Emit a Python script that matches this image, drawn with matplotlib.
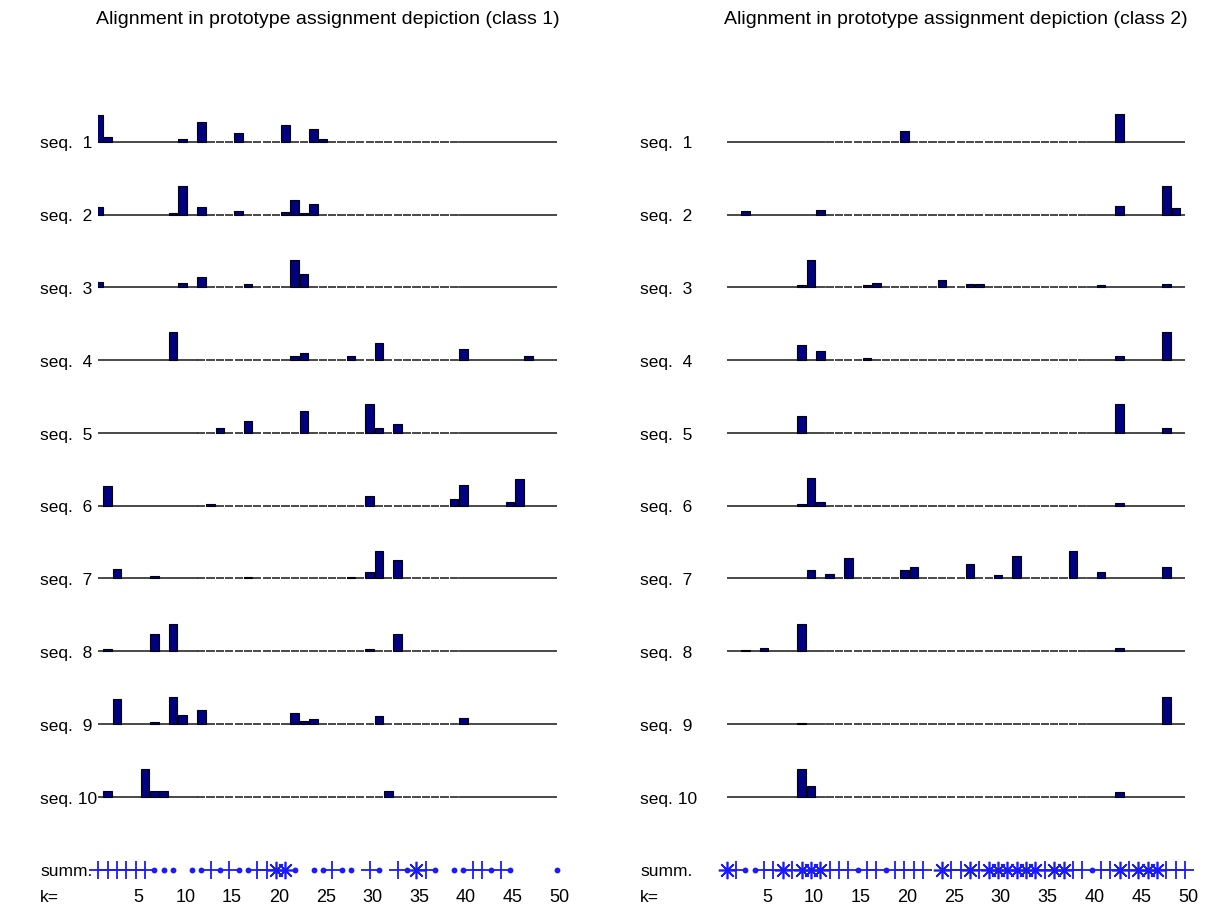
import matplotlib.pyplot as plt
import numpy as np

plt.rcParams['font.family'] = ['Liberation Sans', 'DejaVu Sans']

n_protos = 50
n_seqs = 10
seq_labels = [f"seq. {i:2d}" for i in range(1, n_seqs + 1)]
k_ticks = list(range(5, 51, 5))

# prototype indices hit by each sequence, class 1
class1_pos = [
    [1, 2, 10, 12, 16, 21, 24, 25],
    [1, 9, 10, 12, 16, 21, 22, 23, 24],
    [1, 10, 12, 17, 22, 23],
    [9, 22, 23, 28, 31, 40, 47],
    [14, 17, 23, 30, 31, 33],
    [2, 13, 30, 39, 40, 45, 46],
    [3, 7, 17, 28, 30, 31, 33],
    [2, 7, 9, 30, 33],
    [3, 7, 9, 10, 12, 22, 23, 24, 31, 40],
    [2, 6, 7, 8, 32],
]
# share of the sequence assigned to those prototypes, class 1
class1_val = [
    [0.92, 0.17, 0.09, 0.69, 0.29, 0.57, 0.44, 0.09],
    [0.25, 0.06, 0.97, 0.25, 0.13, 0.08, 0.49, 0.06, 0.37],
    [0.18, 0.15, 0.34, 0.11, 0.94, 0.47],
    [0.95, 0.15, 0.23, 0.15, 0.58, 0.39, 0.14],
    [0.18, 0.42, 0.75, 0.99, 0.18, 0.31],
    [0.68, 0.06, 0.32, 0.24, 0.72, 0.14, 0.92],
    [0.33, 0.09, 0.05, 0.05, 0.22, 0.94, 0.65],
    [0.09, 0.61, 0.94, 0.09, 0.61],
    [0.86, 0.06, 0.94, 0.32, 0.48, 0.37, 0.09, 0.16, 0.29, 0.21],
    [0.21, 0.97, 0.21, 0.21, 0.21],
]

class2_pos = [
    [20, 43],
    [3, 11, 43, 48, 49],
    [9, 10, 16, 17, 24, 27, 28, 41, 48],
    [9, 11, 16, 43, 48],
    [9, 43, 48],
    [9, 10, 11, 43],
    [10, 12, 14, 20, 21, 27, 30, 32, 38, 41, 48],
    [3, 5, 9, 43],
    [9, 48],
    [9, 10, 43],
]
class2_val = [
    [0.38, 0.94],
    [0.13, 0.17, 0.29, 0.97, 0.21],
    [0.07, 0.94, 0.07, 0.15, 0.26, 0.11, 0.11, 0.07, 0.11],
    [0.52, 0.31, 0.06, 0.15, 0.95],
    [0.57, 0.99, 0.18],
    [0.06, 0.94, 0.14, 0.10],
    [0.30, 0.17, 0.70, 0.30, 0.41, 0.49, 0.13, 0.78, 0.94, 0.22, 0.41],
    [0.03, 0.11, 0.93, 0.11],
    [0.04, 0.94],
    [0.97, 0.37, 0.17],
]

# summary symbol per prototype k = 1..50 ('.', '+', '*', or blank)
class1_summ = "++++++... ..+.+..++**. ..+.. +. +.*+. ..++.+.    ."
class2_summ = "*+..++*+***+++.++.++++ *++*+******+**++.++*+***+++"

bar_scale = 0.4
bar_color = '#000080'
mark_color = '#1a1aff'
line_color = '#2a2a2a'

fig = plt.figure(figsize=(12.24, 9.1), dpi=100)


def draw_panel(left_px, label_px, pos, val, summ, title):
    W, H = 1224, 910
    width_px = 458.5
    ax = fig.add_axes([left_px / W, 0, width_px / W, 810 / H])
    ax.set_xlim(1, n_protos)
    ax.set_ylim(-10.554, 0.573)
    ax.axis('off')

    lab_x = (label_px - left_px) / width_px
    lab_dy = -0.03
    dash_k = np.arange(12, 40)

    for r in range(n_seqs):
        base = -r
        # baseline: solid at the ends, broken in the middle
        ax.plot([1, 11.5], [base, base], color=line_color, lw=1.2, zorder=1)
        ax.plot([39.5, n_protos], [base, base], color=line_color, lw=1.2, zorder=1)
        ax.hlines(np.full(len(dash_k), base), dash_k - 0.44, dash_k + 0.44,
                  color=line_color, lw=1.2, zorder=1)

        ax.bar(pos[r], np.array(val[r]) * bar_scale, bottom=base, width=0.92,
               color=bar_color, edgecolor='black', linewidth=0.8, zorder=2)

        ax.text(lab_x, base + lab_dy, seq_labels[r], transform=ax.get_yaxis_transform(),
                ha='left', va='center', fontsize=12.5)

    # summary row
    summ_y = -10.0
    styles = {'+': dict(marker='+', ms=12.5, mew=1.3),
              '*': dict(marker=(8, 2, 0), ms=12.5, mew=1.2),
              '.': dict(marker='o', ms=4.2, mew=0)}
    for sym, st in styles.items():
        ks = [i + 1 for i, c in enumerate(summ) if c == sym]
        ax.plot(ks, [summ_y] * len(ks), linestyle='none', color=mark_color,
                clip_on=False, zorder=3, **st)
    ax.text(lab_x, summ_y + lab_dy, "summ.", transform=ax.get_yaxis_transform(),
            ha='left', va='center', fontsize=12.5)

    k_y = -10.378
    ax.text(lab_x, k_y, "k=", transform=ax.get_yaxis_transform(),
            ha='left', va='center', fontsize=12.5)
    for t in k_ticks:
        ax.text(t + 0.3, k_y, str(t), ha='center', va='center', fontsize=13)

    fig.text((left_px + width_px / 2) / W, 1 - 19 / H, title,
             ha='center', va='center', fontsize=14)


draw_panel(98.3, 40, class1_pos, class1_val, class1_summ,
           "Alignment in prototype assignment depiction (class 1)")
draw_panel(726.7, 640, class2_pos, class2_val, class2_summ,
           "Alignment in prototype assignment depiction (class 2)")

fig.savefig('out.png', dpi=100, facecolor='white')
